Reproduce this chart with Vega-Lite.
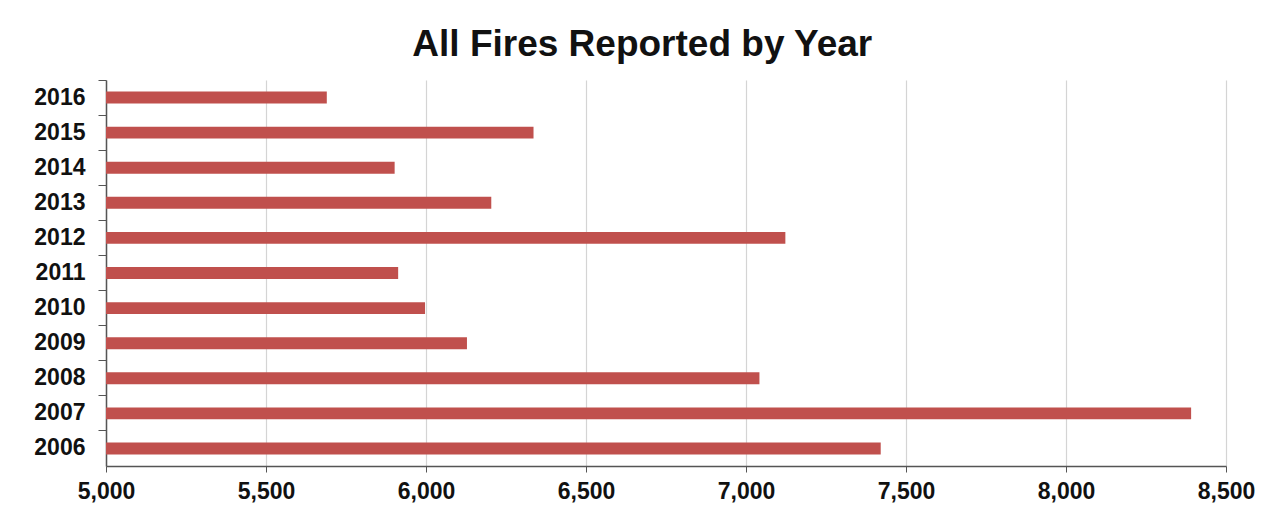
{
  "$schema": "https://vega.github.io/schema/vega-lite/v6.json",
  "autosize": {"type": "none"},
  "width": 1120,
  "height": 386,
  "padding": {"left": 106, "top": 80, "right": 54, "bottom": 46},
  "background": "white",
  "title": {
    "text": "All Fires Reported by Year",
    "font": "Liberation Sans",
    "fontSize": 37,
    "fontWeight": "bold",
    "color": "#111111",
    "anchor": "middle",
    "frame": "bounds",
    "baseline": "alphabetic",
    "offset": 22,
    "dx": -2,
    "dy": 35
  },
  "data": {
    "values": [
      {"year": "2016", "fires": 5690},
      {"year": "2015", "fires": 6336},
      {"year": "2014", "fires": 5902},
      {"year": "2013", "fires": 6204},
      {"year": "2012", "fires": 7123},
      {"year": "2011", "fires": 5913},
      {"year": "2010", "fires": 5997},
      {"year": "2009", "fires": 6128},
      {"year": "2008", "fires": 7042},
      {"year": "2007", "fires": 8391},
      {"year": "2006", "fires": 7421}
    ]
  },
  "mark": {"type": "bar", "color": "#c0504d", "height": {"band": 0.34}},
  "encoding": {
    "y": {
      "field": "year",
      "type": "nominal",
      "sort": ["2016","2015","2014","2013","2012","2011","2010","2009","2008","2007","2006"],
      "scale": {"paddingInner": 0, "paddingOuter": 0},
      "axis": {
        "title": null,
        "bandPosition": 0,
        "labelFont": "Liberation Sans",
        "labelFontSize": 23,
        "labelFontWeight": "bold",
        "labelColor": "#111111",
        "labelPadding": 13,
        "tickSize": 8,
        "tickColor": "#555555",
        "domainColor": "#555555",
        "domainWidth": 1.5,
        "grid": false
      }
    },
    "x": {
      "field": "fires",
      "type": "quantitative",
      "scale": {"domain": [5000, 8500], "zero": false, "nice": false},
      "axis": {
        "title": null,
        "values": [5000, 5500, 6000, 6500, 7000, 7500, 8000, 8500],
        "format": ",.0f",
        "labelFlush": false,
        "labelFont": "Liberation Sans",
        "labelFontSize": 23,
        "labelFontWeight": "bold",
        "labelColor": "#111111",
        "labelPadding": 8,
        "tickSize": 6,
        "tickColor": "#555555",
        "domainColor": "#555555",
        "domainWidth": 1.5,
        "grid": true,
        "gridColor": "#d4d4d4",
        "gridWidth": 1.2
      }
    },
    "x2": {"datum": 5000}
  },
  "config": {"view": {"stroke": null}}
}
